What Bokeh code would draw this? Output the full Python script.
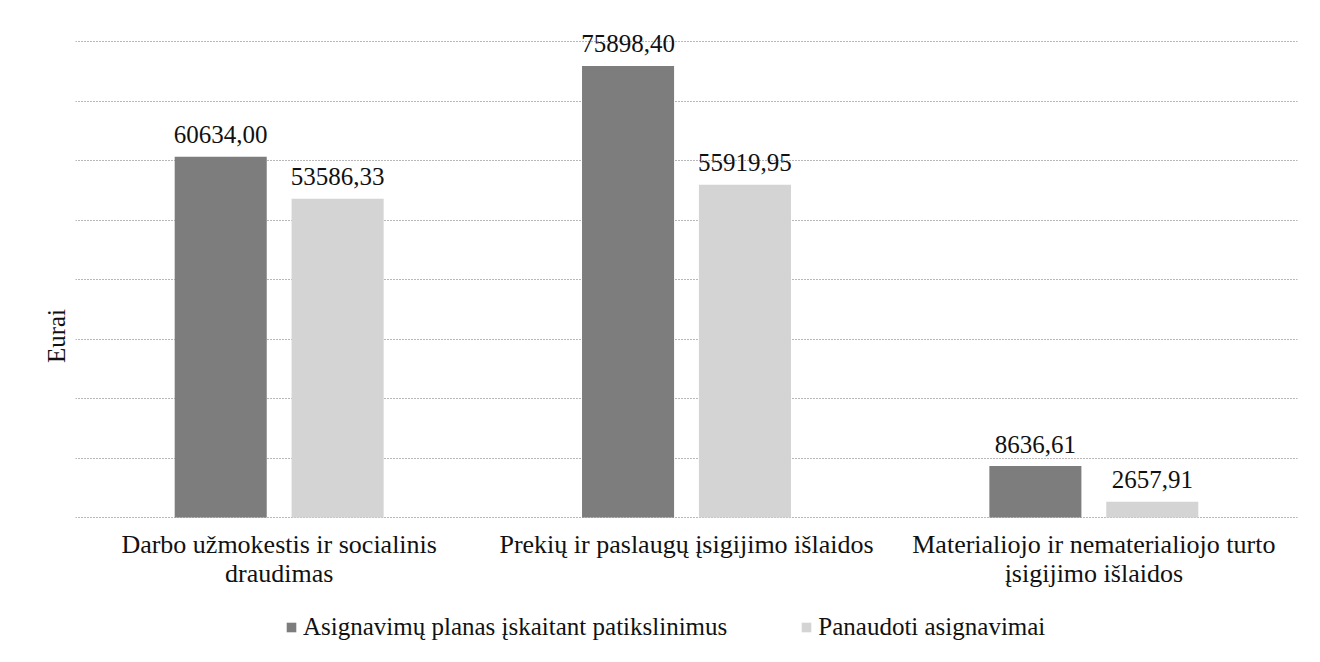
from bokeh.plotting import figure
from bokeh.models import (ColumnDataSource, Range1d, SingleIntervalTicker, FixedTicker,
                          Legend, LegendItem)
from bokeh.transform import dodge
from bokeh.core.properties import value
from bokeh.embed import file_html
from bokeh.resources import INLINE

categories = ["Darbo užmokestis ir socialinis\ndraudimas",
              "Prekių ir paslaugų įsigijimo išlaidos",
              "Materialiojo ir nematerialiojo turto\nįsigijimo išlaidos"]
plan = [60634.00, 75898.40, 8636.61]
used = [53586.33, 55919.95, 2657.91]
series_names = ["Asignavimų planas įskaitant patikslinimus", "Panaudoti asignavimai"]
y_label = "Eurai"
y_max = 80000
y_step = 10000

def fmt(v):
    return f"{v:.2f}".replace(".", ",")

src = ColumnDataSource(dict(cat=categories, plan=plan, used=used,
                            plan_lbl=[fmt(v) for v in plan],
                            used_lbl=[fmt(v) for v in used]))

FONT = "Liberation Serif"
DARK = "#7d7d7d"
LIGHT = "#d4d4d4"
TXT = "#111111"

# frame extends below zero (category labels, legend) and above the top gridline (value labels)
p = figure(x_range=categories, y_range=Range1d(-23193, 84202), width=1312, height=656,
           output_backend="svg", toolbar_location=None,
           min_border_left=75, min_border_top=16, min_border_right=15, min_border_bottom=1)

off = 0.1435
bw = 0.226
r1 = p.vbar(x=dodge("cat", -off, range=p.x_range), top="plan", width=bw, source=src,
            fill_color=DARK, line_color=None)
r2 = p.vbar(x=dodge("cat", off, range=p.x_range), top="used", width=bw, source=src,
            fill_color=LIGHT, line_color=None)

for col, o, ycol in (("plan_lbl", -off, "plan"), ("used_lbl", off, "used")):
    p.text(x=dodge("cat", o, range=p.x_range), y=ycol, text=col, source=src,
           text_font=value(FONT), text_font_size="25px", text_color=TXT,
           text_align="center", text_baseline="alphabetic", y_offset=-22)

# y axis: only the title
yax = p.yaxis[0]
yax.ticker = FixedTicker(ticks=[])
yax.axis_line_color = None
yax.major_tick_line_color = None
yax.minor_tick_line_color = None
yax.major_tick_out = 0
yax.major_tick_in = 0
yax.major_label_standoff = 0
yax.axis_label = y_label
yax.axis_label_text_font = FONT
yax.axis_label_text_font_style = "normal"
yax.axis_label_text_font_size = "25px"
yax.axis_label_text_color = TXT
yax.axis_label_standoff = 6

p.ygrid.ticker = SingleIntervalTicker(interval=y_step, num_minor_ticks=0)
p.ygrid.bounds = (-1, y_max + 1)
p.ygrid.grid_line_color = "#707070"
p.ygrid.grid_line_dash = "1 2"
p.ygrid.grid_line_width = 1
p.xgrid.grid_line_color = None
p.outline_line_color = None

# x axis drawn at y = 0 inside the frame
ax = p.xaxis[0]
ax.fixed_location = 0
ax.axis_line_color = None
ax.major_tick_line_color = None
ax.minor_tick_line_color = None
ax.major_tick_out = 0
ax.major_label_standoff = 12
ax.major_label_text_font = FONT
ax.major_label_text_font_size = "26px"
ax.major_label_text_color = TXT
ax.major_label_text_line_height = 1.0

legend = Legend(items=[LegendItem(label=series_names[0], renderers=[r1]),
                       LegendItem(label=series_names[1], renderers=[r2])],
                orientation="horizontal", location=(210, 14),
                label_text_font=FONT, label_text_font_size="25px", label_text_color=TXT,
                glyph_width=12, glyph_height=12, label_standoff=6, spacing=73,
                border_line_color=None, background_fill_alpha=0,
                padding=4, margin=0)
p.add_layout(legend, "center")

p.background_fill_color = "white"
p.border_fill_color = "white"

open("out.html", "w").write(file_html(p, INLINE))
